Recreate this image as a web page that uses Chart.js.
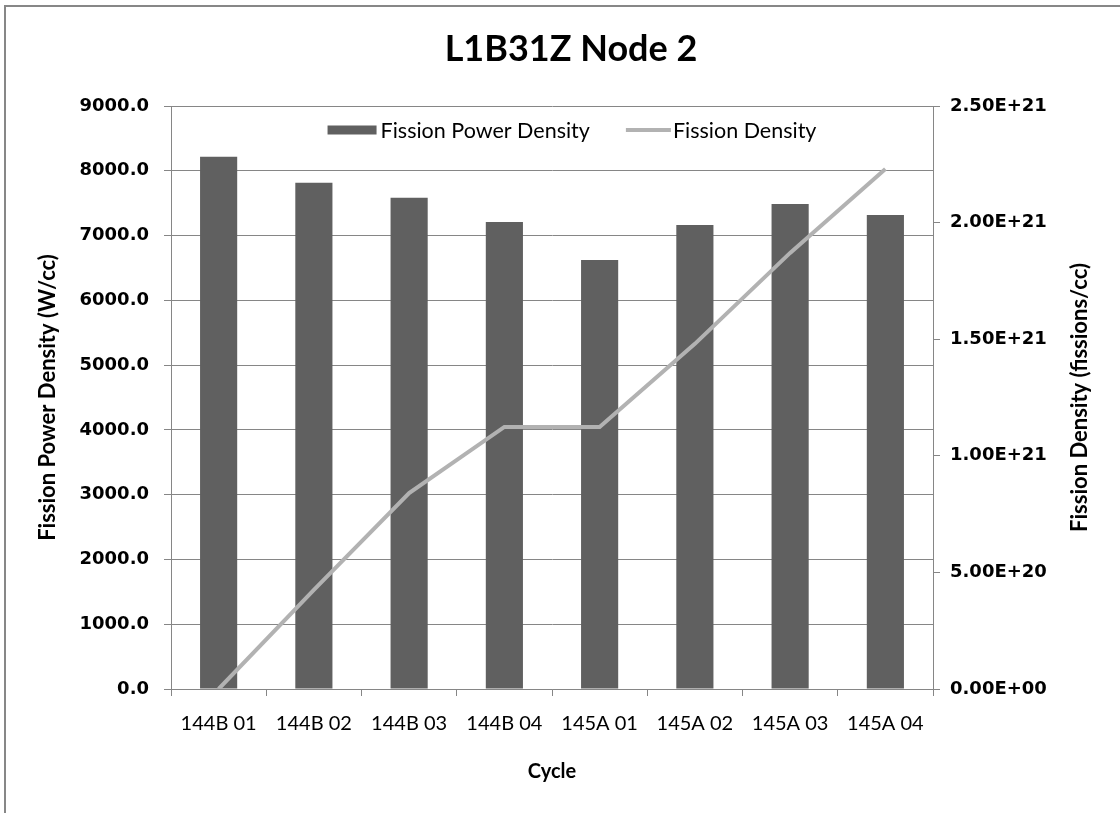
<!DOCTYPE html>
<html>
<head>
<meta charset="utf-8">
<script src="https://cdn.jsdelivr.net/npm/chart.js@4"></script>
<style>
  html, body { margin: 0; padding: 0; background: #fff; }
  #wrap { width: 1120px; height: 813px; }
</style>
</head>
<body>
<div id="wrap"><canvas id="c" width="1120" height="813"></canvas></div>
<script>
const categories = ['144B 01', '144B 02', '144B 03', '144B 04', '145A 01', '145A 02', '145A 03', '145A 04'];
const powerDensity = [8218, 7816, 7585, 7209, 6623, 7163, 7487, 7318];
const fissionDensity = [0, 4.25e20, 8.40e20, 1.124e21, 1.124e21, 1.48e21, 1.87e21, 2.23e21];
const leftTicks = { min: 0, max: 9000, step: 1000 };
const rightTicks = { min: 0, max: 2.5e21, step: 5e20 };
const chartTitle = 'L1B31Z Node 2';
const leftTitle = 'Fission Power Density (W/cc)';
const rightTitle = 'Fission Density (fissions/cc)';
const xTitle = 'Cycle';

const GRID = '#868686';
const BAR = '#606060';
const LINE = '#b2b2b2';

function sci(v) {
  if (v === 0) return '0.00E+00';
  const s = Number(v).toExponential(2).toUpperCase();
  const m = s.match(/^(-?[\d.]+)E([+-])(\d+)$/);
  return m[1] + 'E' + m[2] + m[3].padStart(2, '0');
}

const framePlugin = {
  id: 'frame',
  beforeDraw(chart) {
    const ctx = chart.ctx;
    ctx.save();
    ctx.fillStyle = '#fff';
    ctx.fillRect(0, 0, chart.width, chart.height);
    ctx.fillStyle = '#878787';
    ctx.fillRect(5, 5, chart.width - 5, 2);
    ctx.fillRect(4, 5, 2, chart.height - 5);
    ctx.restore();
  },
  afterDraw(chart) {
    const ctx = chart.ctx;
    const area = chart.chartArea;
    const s = chart.scales.y1;
    ctx.save();
    ctx.fillStyle = '#000';
    // Chart title
    ctx.font = 'bold 36px Lato';
    ctx.textAlign = 'center';
    ctx.textBaseline = 'middle';
    ctx.fillText(chartTitle, 571, 49);
    // Right axis title (reads bottom to top)
    ctx.save();
    ctx.translate(s.left + 147, (s.top + s.bottom) / 2);
    ctx.rotate(-Math.PI / 2);
    ctx.font = 'bold 22px Lato';
    ctx.fillText(rightTitle, 0, 0);
    ctx.restore();
    // Legend inside the plot area
    const items = [chart.data.datasets[1], chart.data.datasets[0]];
    ctx.font = '21.5px Lato';
    ctx.textAlign = 'left';
    const sw = [49, 45];
    const gapText = [4, 2];
    const gapItem = 36;
    const widths = items.map(d => ctx.measureText(d.label).width);
    const total = sw[0] + gapText[0] + widths[0] + gapItem + sw[1] + gapText[1] + widths[1];
    let x = 572 - total / 2;
    const y = area.top + 24;
    ctx.fillStyle = items[0].backgroundColor;
    ctx.fillRect(x, y - 4.5, sw[0], 9);
    x += sw[0] + gapText[0];
    ctx.fillStyle = '#000';
    ctx.fillText(items[0].label, x, y + 1);
    x += widths[0] + gapItem;
    ctx.strokeStyle = items[1].borderColor;
    ctx.lineWidth = 4;
    ctx.beginPath();
    ctx.moveTo(x, y);
    ctx.lineTo(x + sw[1], y);
    ctx.stroke();
    x += sw[1] + gapText[1];
    ctx.fillStyle = '#000';
    ctx.fillText(items[1].label, x, y + 1);
    ctx.restore();
  }
};

new Chart(document.getElementById('c'), {
  data: {
    labels: categories,
    datasets: [
      {
        type: 'line',
        label: 'Fission Density',
        data: fissionDensity,
        yAxisID: 'y1',
        borderColor: LINE,
        backgroundColor: LINE,
        borderWidth: 4,
        pointRadius: 0,
        tension: 0,
        order: 0
      },
      {
        type: 'bar',
        label: 'Fission Power Density',
        data: powerDensity,
        yAxisID: 'y',
        backgroundColor: BAR,
        borderWidth: 0,
        categoryPercentage: 1.0,
        barPercentage: 0.39,
        order: 1
      }
    ]
  },
  plugins: [framePlugin],
  options: {
    responsive: false,
    animation: false,
    devicePixelRatio: 1,
    layout: { padding: { left: 0, right: 0, top: 106, bottom: 0 } },
    plugins: {
      title: { display: false },
      legend: { display: false },
      tooltip: { enabled: false }
    },
    scales: {
      x: {
        type: 'category',
        offset: true,
        grid: { display: true, drawOnChartArea: false, drawTicks: true, tickLength: 7, color: GRID, offset: true },
        border: { display: true, color: GRID, width: 1 },
        ticks: { color: '#000', font: { family: 'Lato', size: 20 }, maxRotation: 0, autoSkip: false, padding: 16 },
        title: { display: true, text: xTitle, color: '#000', font: { family: 'Lato', size: 20, weight: 'bold' }, padding: { top: 0, bottom: 29 } },
        afterFit(s) { s.height = 124; }
      },
      y: {
        type: 'linear',
        position: 'left',
        min: leftTicks.min,
        max: leftTicks.max,
        ticks: {
          stepSize: leftTicks.step,
          color: '#000',
          font: { family: 'DejaVu Sans', size: 18, weight: 'bold' },
          padding: 15,
          callback: v => Number(v).toFixed(1)
        },
        grid: { color: GRID, lineWidth: 1, tickLength: 7 },
        border: { display: true, color: GRID, width: 1 },
        title: { display: true, text: leftTitle, color: '#000', font: { family: 'Lato', size: 22, weight: 'bold' }, padding: { top: 35, bottom: 0 } },
        afterFit(s) { s.width = 171; }
      },
      y1: {
        type: 'linear',
        position: 'right',
        min: rightTicks.min,
        max: rightTicks.max,
        ticks: {
          stepSize: rightTicks.step,
          color: '#000',
          font: { family: 'DejaVu Sans', size: 18, weight: 'bold' },
          padding: 10,
          callback: v => sci(v)
        },
        grid: { drawOnChartArea: false, color: GRID, tickLength: 7 },
        border: { display: true, color: GRID, width: 1 },
        afterFit(s) { s.width = 187; }
      }
    }
  }
});
</script>
</body>
</html>
